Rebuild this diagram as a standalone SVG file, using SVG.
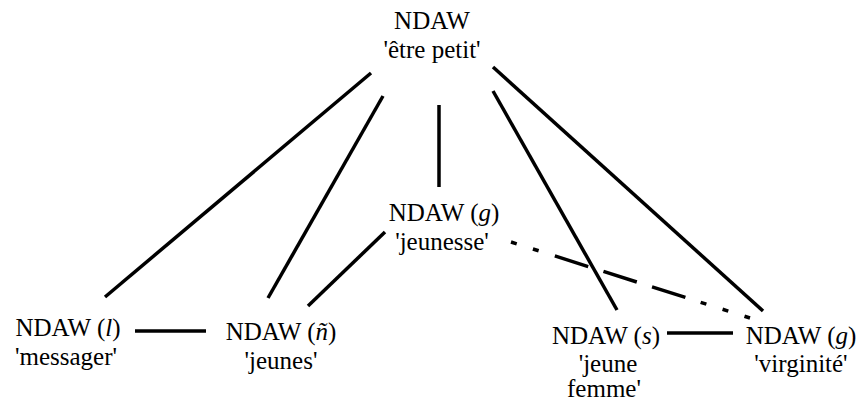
<svg xmlns="http://www.w3.org/2000/svg" width="863" height="408" viewBox="0 0 863 408">
<style>
text{font-size:25px;fill:#000;text-anchor:middle}
.i{font-style:italic}
line{stroke:#000;stroke-width:3.5;fill:none}
</style>
<rect width="863" height="408" fill="#fff"/>
<g id="connectors">
<line x1="371" y1="73" x2="105" y2="297"/>
<line x1="383" y1="96" x2="268" y2="298"/>
<line x1="439" y1="105" x2="439" y2="187"/>
<line x1="385" y1="232" x2="308" y2="306"/>
<line x1="493" y1="67" x2="763" y2="311"/>
<line x1="493" y1="91" x2="617" y2="310"/>
<line x1="135" y1="331" x2="206" y2="331"/>
<line x1="667" y1="333" x2="733" y2="333"/>
<line x1="511" y1="242" x2="750" y2="318" stroke-dasharray="6 17 6 17 35 16 35 16 35 16 6 17 6 17 6 100"/>
</g>
<g font-family="Liberation Serif, Times New Roman, Times, serif">
<g id="n-top"><text x="432" y="29">NDAW</text><text x="432" y="58">'être petit'</text></g>
<g id="n-jeunesse"><text x="444" y="221">NDAW (<tspan class="i">g</tspan>)</text><text x="442" y="250">'jeunesse'</text></g>
<g id="n-messager"><text x="68" y="336">NDAW (<tspan class="i">l</tspan>)</text><text x="66" y="365">'messager'</text></g>
<g id="n-jeunes"><text x="281" y="340">NDAW (<tspan class="i">ñ</tspan>)</text><text x="281" y="369">'jeunes'</text></g>
<g id="n-jeunefemme"><text x="606" y="344">NDAW (<tspan class="i">s</tspan>)</text><text x="608" y="372">'jeune</text><text x="604" y="397">femme'</text></g>
<g id="n-virginite"><text x="801" y="344">NDAW (<tspan class="i">g</tspan>)</text><text x="801" y="372">'virginité'</text></g>
</g>
</svg>
